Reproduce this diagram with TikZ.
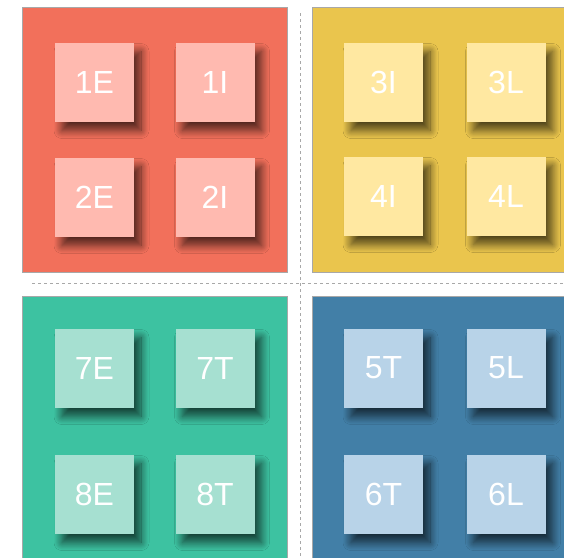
\documentclass[tikz,border=0pt]{standalone}
\usepackage{fontspec}
\setmainfont{Liberation Sans}
\usepackage{tikz}
\usetikzlibrary{shadows.blur}
\definecolor{redbg}{HTML}{F2705B}
\definecolor{redsq}{HTML}{FFBAB0}
\definecolor{yelbg}{HTML}{EAC54D}
\definecolor{yelsq}{HTML}{FFE8A1}
\definecolor{tealbg}{HTML}{3DC2A1}
\definecolor{tealsq}{HTML}{A6E0D1}
\definecolor{bluebg}{HTML}{427FA7}
\definecolor{bluesq}{HTML}{B8D3E8}
\definecolor{rule}{HTML}{A8A8A8}

\begin{document}
\begin{tikzpicture}[x=1pt,y=-1pt,
panel/.style={draw=rule,line width=.8pt},
sq/.style={minimum size=79pt,inner sep=0pt,text=white,
  font=\fontsize{32}{36}\selectfont,
  blur shadow={shadow xshift=7pt,shadow yshift=-9pt,shadow blur radius=8pt,shadow blur steps=12,shadow opacity=65}},
sep/.style={draw=rule,line width=.6pt,dash pattern=on 3pt off 3pt}]
\useasboundingbox (0,0) rectangle (564,557);
\clip (0,0) rectangle (564,557);
% panels
\fill[redbg,panel] (22,7) rectangle (287,272);
\fill[yelbg,panel] (312,7) rectangle (570,272);
\fill[tealbg,panel] (22,296) rectangle (287,565);
\fill[bluebg,panel] (312,296) rectangle (570,565);
% separators
\coordinate (vtop) at (300,13);
\coordinate (vbot) at (300,557);
\coordinate (hl) at (32,283);
\coordinate (hr) at (564,283);
\draw[sep] (vtop) -- (vbot);
\draw[sep] (hl) -- (hr);
% top left
\node[sq,fill=redsq] (n1E) at (94.5,82) {1E};
\node[sq,fill=redsq] (n1I) at (215,82) {1I};
\node[sq,fill=redsq] (n2E) at (94.5,197) {2E};
\node[sq,fill=redsq] (n2I) at (215,197) {2I};
% top right
\node[sq,fill=yelsq] (n3I) at (383.5,82) {3I};
\node[sq,fill=yelsq] (n3L) at (506,82) {3L};
\node[sq,fill=yelsq] (n4I) at (383.5,196) {4I};
\node[sq,fill=yelsq] (n4L) at (506,196) {4L};
% bottom left
\node[sq,fill=tealsq] (n7E) at (94.5,368) {7E};
\node[sq,fill=tealsq] (n7T) at (215,368) {7T};
\node[sq,fill=tealsq] (n8E) at (94.5,494) {8E};
\node[sq,fill=tealsq] (n8T) at (215,494) {8T};
% bottom right
\node[sq,fill=bluesq] (n5T) at (383.5,368) {5T};
\node[sq,fill=bluesq] (n5L) at (506,368) {5L};
\node[sq,fill=bluesq] (n6T) at (383.5,494) {6T};
\node[sq,fill=bluesq] (n6L) at (506,494) {6L};
\end{tikzpicture}
\end{document}
